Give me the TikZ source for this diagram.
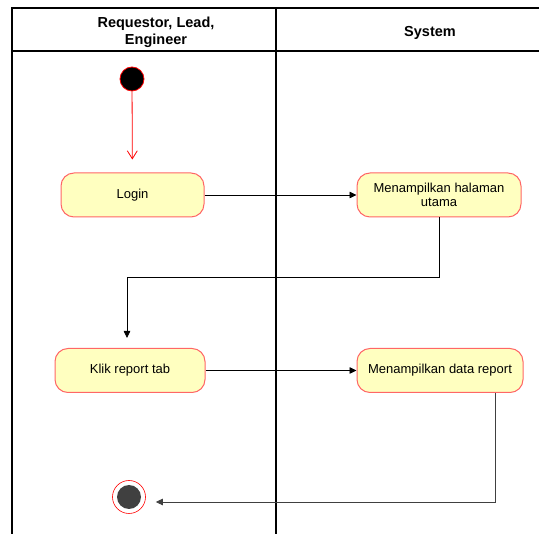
\documentclass[tikz,border=0pt]{standalone}
\usepackage{fontspec}
\setmainfont{Liberation Sans}
\usetikzlibrary{arrows.meta}
\definecolor{actfill}{HTML}{FFFFC0}
\definecolor{actline}{HTML}{FF6666}
\definecolor{endgray}{HTML}{404040}
\begin{document}
\begin{tikzpicture}[x=1pt,y=-1pt,
  lane/.style={line width=1.3pt, draw=black},
  lanetitle/.style={font=\bfseries\fontsize{14.5}{17.5}\selectfont, align=center},
  action/.style={draw=actline, fill=actfill, line width=1pt, rounded corners=13pt,
    minimum height=44pt, align=center, inner sep=2pt,
    font=\fontsize{13}{14.5}\selectfont},
  flow/.style={draw=black, line width=0.8pt, -{Triangle[length=7pt,width=6.5pt]}},
]
\useasboundingbox (0,0) rectangle (539,534);

% swimlane frame
\draw[lane] (539,8) -- (12,8) -- (12,534);
\draw[lane] (12,51) -- (539,51);
\draw[lane] (276,8) -- (276,534);

\node[lanetitle] (laneA) at (156,32.5) {Requestor, Lead,\\Engineer};
\node[lanetitle] (laneB) at (430,33) {System};

% activity nodes
\node[circle, fill=black, draw=red, line width=0.8pt, minimum size=24pt, inner sep=0pt] (start) at (132,79) {};
\node[action, minimum width=143pt] (login) at (132.5,195) {Login};
\node[action, minimum width=164pt] (home) at (439,195) {Menampilkan halaman\\utama};
\node[action, minimum width=150pt] (klik) at (130,370.5) {Klik report tab};
\node[action, minimum width=166pt] (data) at (440,370.5) {Menampilkan data report};
\node[circle, draw=red, line width=0.6pt, minimum size=33pt, inner sep=0pt] (end) at (129,497) {};
\node[circle, fill=endgray, minimum size=24pt, inner sep=0pt] (endcore) at (end) {};

% bend points of the control flows
\coordinate (bendA) at (127,277);
\coordinate (bendB) at (495,502);

% control flows
\draw[red, line width=0.8pt, shorten >=13pt, -{Straight Barb[length=8pt,width=10pt]}] (start) -- (login);
\draw[flow] (login) -- (home);
\draw[flow, shorten >=10pt] (home.south) |- (bendA) -- (bendA |- klik.north);
\draw[flow] (klik) -- (data);
\draw[flow, draw=endgray, shorten >=10pt] (data.south -| bendB) -- (bendB) -- (bendB -| end.east);
\end{tikzpicture}
\end{document}
